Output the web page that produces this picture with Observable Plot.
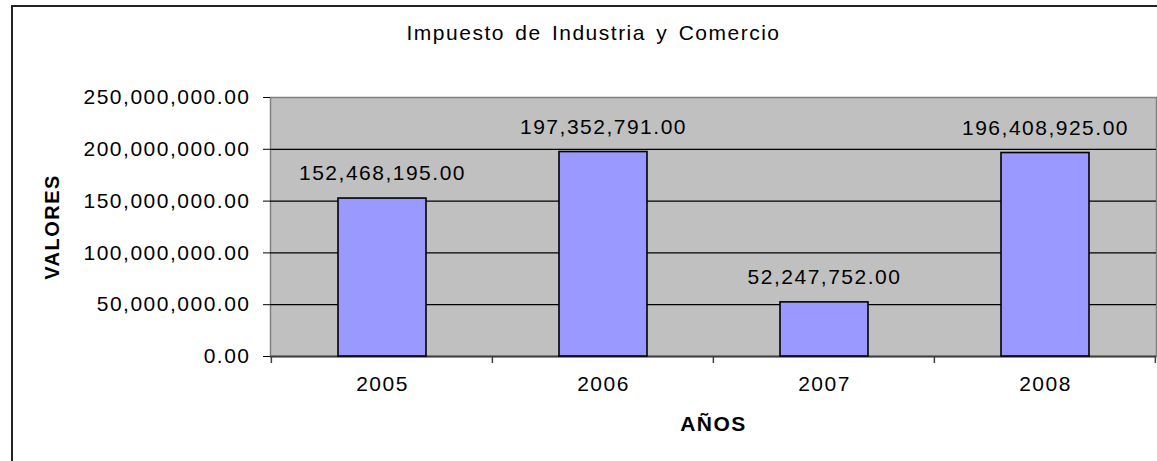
<!DOCTYPE html>
<html><head><meta charset="utf-8">
<script src="https://cdn.jsdelivr.net/npm/d3@7"></script>
<script src="https://cdn.jsdelivr.net/npm/@observablehq/plot@0.6"></script>
<style>
body{margin:0;background:#fff;}
#wrap{position:relative;width:1157px;height:461px;overflow:hidden;background:#fff;}
#border{position:absolute;left:11px;top:5px;width:1400px;height:700px;border:2px solid #222;box-sizing:border-box;}
#chart{position:absolute;left:0;top:0;}
</style></head><body>
<div id="wrap"><div id="border"></div><div id="chart"></div></div>
<script>
const years = ["2005", "2006", "2007", "2008"];
const values = [152468195, 197352791, 52247752, 196408925];
const yTicks = [0, 50000000, 100000000, 150000000, 200000000, 250000000];
const gridTicks = [50000000, 100000000, 150000000, 200000000];
const title = "Impuesto de Industria y Comercio";
const xLabel = "AÑOS";
const yLabel = "VALORES";

const data = years.map((y, i) => ({year: y, value: values[i]}));
const fmt = d3.format(",.2f");
const font = "'Liberation Sans', Arial, sans-serif";
const pInner = 0.603;

function boundaryTicks(index, scales, vals, dims) {
  const x = scales.x;
  const step = x(years[1]) - x(years[0]);
  const bw = step * (1 - pInner);
  const pos = years.map(c => x(c) - (step - bw) / 2);
  pos.push(x(years[years.length - 1]) + bw + (step - bw) / 2);
  const y0 = dims.height - dims.marginBottom;
  const g = d3.create("svg:g");
  g.selectAll("line").data(pos).join("line")
    .attr("x1", d => d).attr("x2", d => d)
    .attr("y1", y0).attr("y2", y0 + 7)
    .attr("stroke", "#404040").attr("stroke-width", 1.5);
  return g.node();
}

const chart = Plot.plot({
  width: 1157,
  height: 461,
  marginLeft: 270,
  marginRight: 1,
  marginTop: 97,
  marginBottom: 105,
  style: {fontFamily: font, fontSize: "21px", letterSpacing: "1.5px", color: "#000", background: "transparent", overflow: "visible"},
  x: {type: "band", domain: years, paddingInner: pInner, paddingOuter: pInner / 2},
  y: {domain: [0, 250000000]},
  marks: [
    Plot.frame({fill: "#c0c0c0", stroke: "#808080", strokeWidth: 1.5}),
    Plot.ruleY(gridTicks, {stroke: "#000", strokeWidth: 1.2}),
    Plot.ruleY([0], {stroke: "#404040", strokeWidth: 2}),
    Plot.barY(data, {x: "year", y: "value", fill: "#9999ff", stroke: "#000", strokeWidth: 1.6}),
    Plot.text(data, {x: "year", y: "value", text: d => fmt(d.value), dy: -25, lineAnchor: "middle", fontSize: 21, fill: "#000"}),
    Plot.axisY({ticks: yTicks, tickFormat: fmt, tickSize: 7, tickPadding: 13, label: null, stroke: "#000", fontSize: 21}),
    Plot.axisX({tickSize: 0, tickPadding: 20, label: null, fontSize: 21}),
    boundaryTicks,
    Plot.text([title], {frameAnchor: "top", dx: -120, dy: -64, lineAnchor: "middle", textAnchor: "middle", fontSize: 21, fill: "#000"}),
    Plot.text([yLabel], {frameAnchor: "left", dx: -218, rotate: -90, lineAnchor: "middle", textAnchor: "middle", fontSize: 20, fontWeight: "bold", fill: "#000"}),
    Plot.text([xLabel], {frameAnchor: "bottom", dy: 68, lineAnchor: "middle", textAnchor: "middle", fontSize: 21, fontWeight: "bold", fill: "#000"})
  ]
});
d3.select(chart).selectAll("text").filter(function() { return this.textContent === title; })
  .style("word-spacing", "3px");
document.getElementById("chart").appendChild(chart);
</script>
</body></html>
